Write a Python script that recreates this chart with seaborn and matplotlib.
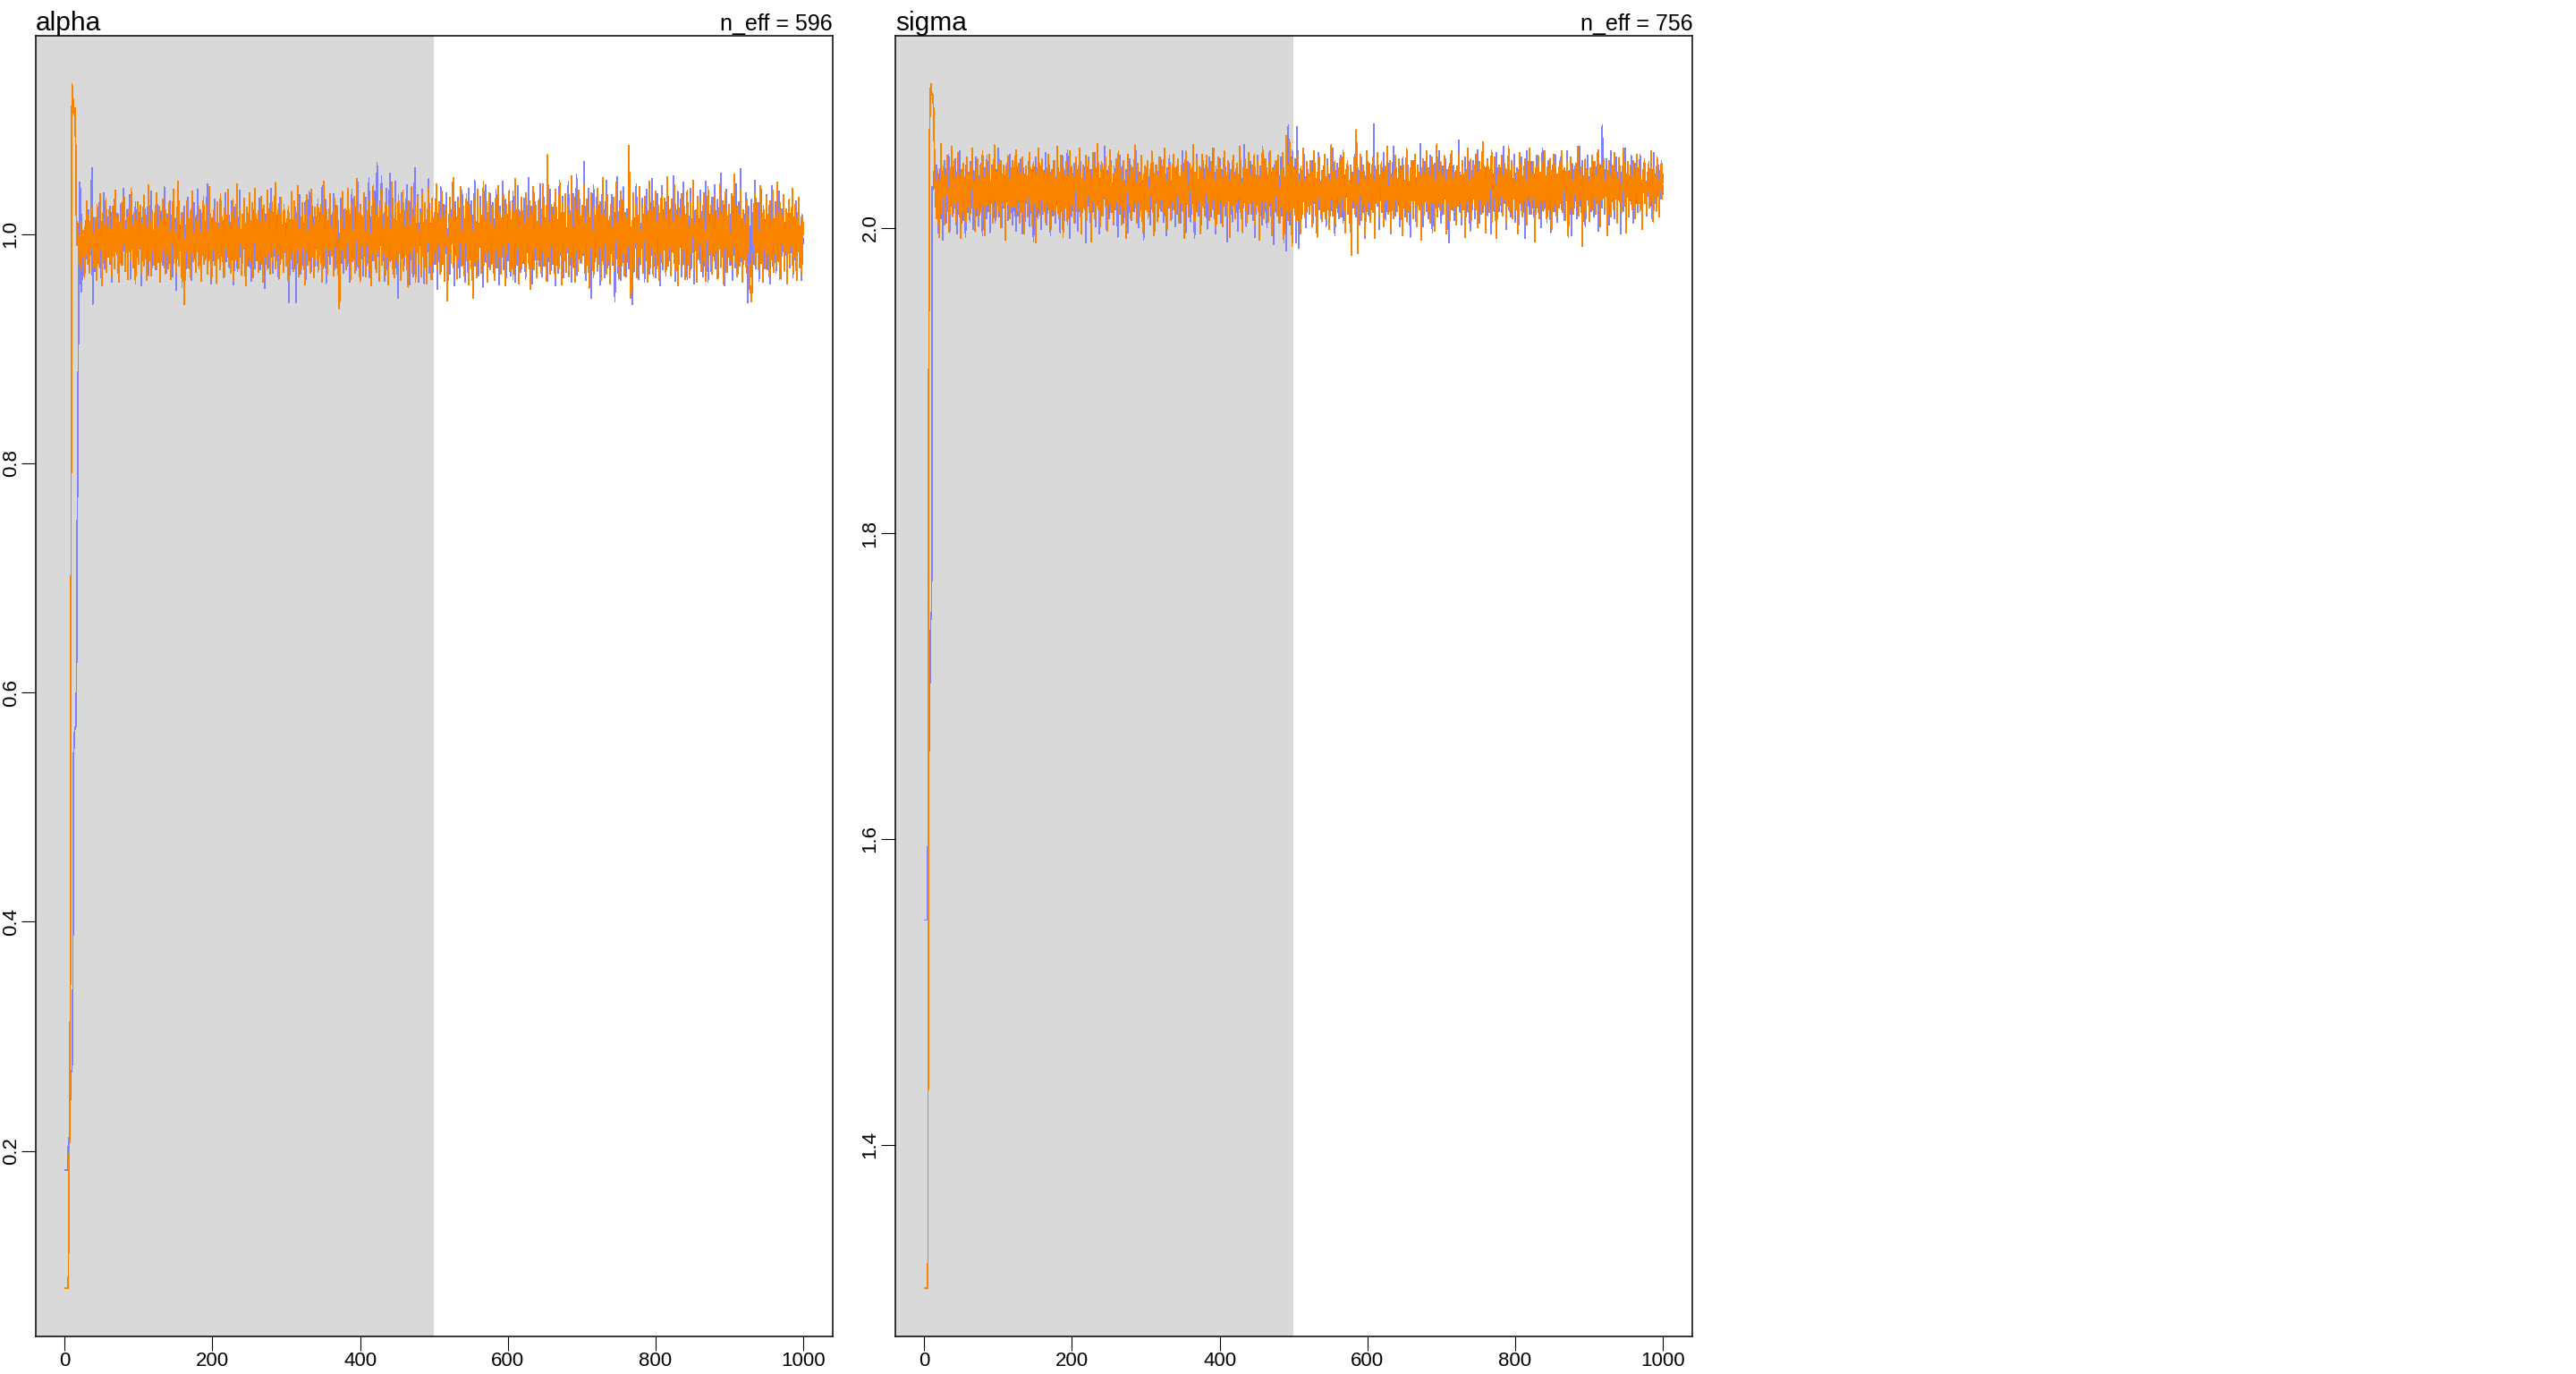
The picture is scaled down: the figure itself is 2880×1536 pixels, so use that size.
"""Trace plot of two chains for alpha and sigma, warmup shaded grey."""

import matplotlib

matplotlib.use("Agg")

import matplotlib.pyplot as plt
import numpy as np
import pandas as pd
import seaborn as sns

WARMUP = 500
CHAIN_COLORS = ["#8080FF", "#F98400"]
WARMUP_COLOR = "#D9D9D9"

PARAMS = ["alpha", "sigma"]
N_EFF = [596, 756]
X_TICKS = [0, 200, 400, 600, 800, 1000]
ALPHA_TICKS = [0.2, 0.4, 0.6, 0.8, 1.0]
SIGMA_TICKS = [1.4, 1.6, 1.8, 2.0]

# values per iteration (1..1000), 20 per row
alpha_chain1 = [
    0.183, 0.183, 0.183, 0.183, 0.204, 0.204, 0.230, 0.250, 0.270, 0.270, 0.305, 0.540, 0.560, 0.570, 0.570, 0.600, 0.730, 0.830, 0.950, 1.045,
    0.957, 1.040, 0.950, 0.972, 0.996, 0.988, 1.003, 0.985, 1.012, 0.979, 0.990, 1.021, 0.971, 1.008, 0.983, 1.033, 1.058, 0.939, 1.015, 0.992,
    0.968, 1.004, 0.981, 1.019, 0.996, 0.975, 1.027, 0.989, 0.962, 1.011, 0.998, 0.984, 1.036, 0.970, 1.006, 0.993, 0.979, 1.015, 0.987, 1.002,
    0.974, 1.024, 0.999, 0.958, 1.013, 0.986, 1.030, 0.977, 1.005, 0.991, 1.018, 0.966, 0.995, 1.009, 0.982, 1.026, 0.973, 1.001, 0.988, 1.040,
    0.995, 0.969, 1.012, 0.984, 1.021, 0.978, 0.999, 1.034, 0.961, 1.007, 0.990, 1.016, 0.976, 1.003, 0.985, 1.028, 0.967, 1.010, 0.993, 0.980,
    1.019, 0.987, 1.006, 0.955, 1.014, 0.996, 0.972, 1.031, 0.989, 1.002, 0.976, 1.023, 0.998, 0.964, 1.011, 0.983, 1.037, 0.971, 1.004, 0.992,
    0.981, 1.015, 0.969, 1.008, 0.994, 1.026, 0.977, 1.001, 0.958, 1.020, 0.987, 1.012, 0.973, 0.999, 1.041, 0.984, 1.006, 0.966, 1.017, 0.990,
    1.003, 0.975, 1.029, 0.986, 1.010, 0.963, 0.997, 1.022, 0.980, 1.013, 0.951, 1.005, 0.991, 1.035, 0.974, 1.000, 0.988, 1.018, 0.968, 1.009,
    0.985, 1.024, 0.995, 0.970, 1.011, 0.982, 1.032, 0.976, 1.002, 0.990, 1.016, 0.960, 1.007, 0.994, 1.027, 0.979, 1.013, 0.987, 0.998, 1.039,
    0.972, 1.006, 0.989, 1.021, 0.967, 1.010, 0.996, 0.981, 1.025, 0.978, 1.003, 0.992, 1.044, 0.969, 1.008, 0.984, 1.017, 0.957, 1.001, 0.993,
    1.014, 0.977, 1.030, 0.988, 0.999, 0.965, 1.019, 0.985, 1.009, 0.973, 1.027, 0.995, 0.981, 1.012, 0.962, 1.004, 0.990, 1.036, 0.976, 1.007,
    0.983, 1.018, 0.971, 1.002, 0.994, 1.029, 0.978, 1.011, 0.956, 0.997, 1.023, 0.986, 1.005, 0.968, 1.015, 0.991, 1.038, 0.980, 1.000, 0.974,
    1.010, 0.989, 1.026, 0.964, 1.003, 0.982, 1.020, 0.993, 0.972, 1.033, 0.987, 1.008, 0.959, 1.016, 0.996, 0.979, 1.024, 0.970, 1.006, 0.992,
    0.977, 1.013, 0.985, 1.031, 0.969, 1.001, 0.990, 1.022, 0.975, 1.009, 0.953, 1.017, 0.994, 0.983, 1.028, 0.971, 1.004, 0.988, 1.040, 0.980,
    1.007, 0.966, 1.019, 0.992, 0.978, 1.025, 0.986, 1.011, 0.963, 0.999, 1.032, 0.974, 1.014, 0.990, 1.003, 0.968, 1.021, 0.984, 1.009, 0.976,
    0.996, 1.018, 0.979, 0.940, 1.006, 0.987, 1.027, 0.970, 1.012, 0.993, 0.981, 1.023, 0.940, 1.002, 0.975, 1.016, 0.989, 1.034, 0.965, 1.008,
    0.986, 1.020, 0.973, 1.004, 0.995, 1.029, 0.961, 1.013, 0.982, 1.000, 1.037, 0.977, 1.010, 0.968, 1.024, 0.991, 0.980, 1.015, 0.972, 1.005,
    0.990, 1.026, 0.967, 1.011, 0.984, 1.019, 0.976, 1.003, 1.042, 0.970, 1.008, 0.988, 1.030, 0.957, 1.014, 0.996, 0.981, 1.022, 0.974, 1.009,
    0.983, 1.016, 0.993, 1.035, 0.969, 1.006, 0.978, 1.025, 0.989, 1.012, 0.962, 1.001, 0.987, 1.031, 0.975, 1.018, 0.994, 0.966, 1.021, 0.985,
    1.010, 0.972, 1.028, 0.991, 1.004, 0.958, 1.017, 0.980, 1.039, 0.976, 1.007, 0.993, 1.023, 0.968, 1.013, 0.986, 1.045, 0.971, 1.002, 0.990,
    1.026, 0.979, 1.011, 0.964, 1.019, 0.997, 0.983, 1.032, 0.973, 1.006, 0.988, 1.049, 0.962, 1.015, 0.992, 1.024, 0.977, 1.003, 0.985, 1.037,
    0.970, 1.012, 1.062, 0.981, 1.008, 0.966, 1.029, 0.990, 1.051, 0.974, 1.017, 0.995, 0.959, 1.021, 0.984, 1.040, 0.969, 1.010, 0.987, 1.053,
    0.976, 1.014, 0.993, 1.031, 0.965, 1.005, 0.982, 1.046, 0.971, 1.009, 0.944, 1.025, 0.988, 1.002, 0.960, 1.036, 0.979, 1.013, 0.996, 0.973,
    1.020, 0.985, 1.043, 0.968, 1.007, 0.991, 0.956, 1.028, 0.978, 1.011, 0.999, 0.963, 1.016, 1.058, 0.975, 1.004, 0.987, 1.034, 0.958, 1.009,
    0.990, 1.022, 0.969, 1.039, 0.982, 1.006, 0.957, 1.027, 0.993, 0.971, 1.015, 0.985, 1.048, 0.966, 1.002, 0.978, 1.024, 0.961, 1.012, 0.996,
    0.974, 1.030, 0.987, 1.009, 0.952, 1.018, 0.993, 0.979, 1.041, 0.968, 1.005, 0.990, 1.026, 0.960, 1.014, 0.983, 1.036, 0.971, 1.001, 0.988,
    1.021, 0.965, 1.010, 0.994, 1.045, 0.977, 1.003, 0.955, 1.028, 0.986, 1.013, 0.970, 1.032, 0.991, 0.962, 1.017, 0.981, 1.038, 0.973, 1.006,
    0.992, 0.958, 1.024, 0.984, 1.011, 0.967, 1.040, 0.978, 1.004, 0.995, 1.029, 0.960, 1.016, 0.987, 1.047, 0.972, 1.000, 0.983, 1.022, 0.964,
    1.009, 0.989, 1.033, 0.970, 1.015, 0.954, 1.026, 0.993, 0.976, 1.043, 0.985, 1.007, 0.961, 1.019, 0.996, 1.035, 0.974, 1.002, 0.988, 1.027,
    0.966, 1.013, 0.980, 1.039, 0.971, 1.006, 0.992, 0.956, 1.024, 0.983, 1.011, 0.998, 1.046, 0.969, 1.004, 0.987, 1.030, 0.962, 1.017, 0.977,
    1.001, 0.990, 1.028, 0.964, 1.012, 0.979, 1.037, 0.985, 1.005, 0.958, 1.021, 0.994, 0.973, 1.042, 0.982, 1.009, 0.967, 1.025, 0.988, 1.014,
    0.975, 1.031, 0.996, 0.961, 1.018, 0.984, 1.003, 1.049, 0.970, 1.010, 0.989, 1.024, 0.957, 1.007, 0.993, 1.036, 0.978, 1.015, 0.965, 1.002,
    0.986, 1.020, 0.972, 1.044, 0.991, 0.963, 1.013, 0.980, 1.032, 0.974, 1.006, 0.996, 1.027, 0.959, 1.017, 0.983, 1.039, 0.968, 1.008, 0.992,
    1.023, 0.977, 1.004, 0.955, 1.029, 0.988, 1.012, 0.966, 1.041, 0.981, 0.997, 1.019, 0.973, 1.033, 0.962, 1.010, 0.990, 1.026, 0.976, 1.005,
    0.984, 1.046, 0.969, 1.015, 0.993, 0.958, 1.022, 0.987, 1.035, 0.971, 1.008, 0.979, 1.052, 0.964, 1.011, 0.995, 1.030, 0.975, 1.003, 0.989,
    1.018, 0.982, 1.063, 0.975, 1.024, 0.960, 1.009, 0.991, 1.040, 0.970, 1.014, 0.986, 0.944, 1.027, 0.997, 1.043, 0.965, 1.006, 0.980, 1.032,
    0.968, 1.010, 0.989, 1.025, 0.956, 1.016, 0.994, 1.037, 0.977, 1.003, 0.962, 1.028, 0.985, 1.047, 0.971, 1.012, 0.998, 0.959, 1.021, 0.983,
    1.034, 0.973, 1.007, 0.990, 0.941, 1.019, 0.981, 1.050, 0.966, 1.013, 0.995, 1.029, 0.960, 1.004, 0.987, 1.041, 0.975, 1.016, 0.992, 0.963,
    1.022, 0.985, 1.011, 0.970, 1.038, 0.979, 1.005, 0.993, 0.939, 1.026, 0.968, 1.014, 0.988, 1.044, 0.974, 1.002, 0.961, 1.020, 0.984, 1.009,
    0.996, 1.031, 0.972, 1.017, 0.958, 1.006, 0.989, 1.039, 0.976, 1.012, 0.994, 0.965, 1.027, 0.982, 1.048, 0.970, 1.004, 0.991, 1.023, 0.962,
    1.010, 0.980, 1.035, 0.973, 1.001, 0.955, 1.019, 0.987, 1.042, 0.969, 1.013, 0.995, 1.028, 0.964, 1.007, 0.984, 1.033, 0.977, 1.016, 0.990,
    0.967, 1.024, 0.992, 1.051, 0.975, 1.008, 0.959, 1.021, 0.986, 1.037, 0.971, 1.003, 0.993, 1.030, 0.963, 1.015, 0.981, 1.045, 0.974, 1.006,
    0.988, 1.018, 0.961, 1.027, 0.996, 0.978, 1.040, 0.969, 1.011, 0.984, 1.034, 0.957, 1.020, 0.990, 1.004, 0.966, 1.029, 0.982, 1.013, 0.975,
    1.038, 0.986, 1.009, 0.963, 1.023, 0.994, 0.972, 1.046, 0.980, 1.014, 0.958, 1.026, 0.991, 1.005, 0.968, 1.032, 0.977, 1.017, 0.995, 1.043,
    0.970, 1.008, 0.984, 1.030, 0.962, 1.019, 0.990, 1.053, 0.976, 1.002, 0.987, 1.025, 0.955, 1.012, 0.981, 1.039, 0.967, 1.006, 0.996, 1.022,
    0.973, 1.015, 0.989, 0.960, 1.033, 0.982, 1.010, 0.971, 1.044, 0.993, 1.004, 0.965, 1.028, 0.985, 1.057, 0.976, 1.013, 0.958, 1.020, 0.992,
    0.979, 1.036, 0.968, 1.011, 0.940, 1.024, 0.987, 1.007, 0.963, 1.030, 0.995, 0.974, 1.018, 0.983, 1.047, 0.970, 1.005, 0.990, 1.027, 0.959,
    1.012, 0.986, 1.039, 0.975, 1.003, 0.964, 1.021, 0.994, 0.980, 1.034, 0.969, 1.009, 0.991, 1.025, 0.957, 1.016, 0.983, 1.042, 0.972, 1.001,
    0.988, 1.028, 0.966, 1.014, 0.995, 0.977, 1.037, 0.985, 1.006, 0.961, 1.022, 0.990, 1.031, 0.973, 1.010, 0.982, 1.019, 0.967, 1.004, 0.993,
    1.026, 0.971, 1.008, 0.984, 1.035, 0.962, 1.015, 0.992, 0.978, 1.029, 0.968, 1.011, 0.987, 1.020, 0.975, 1.003, 0.960, 1.017, 0.989, 0.996,
]

alpha_chain2 = [
    0.080, 0.080, 0.080, 0.080, 0.080, 0.183, 0.230, 0.390, 0.820, 1.131, 1.124, 1.107, 1.104, 1.110, 1.078, 1.016, 0.990, 1.002, 0.975, 0.998,
    0.985, 1.011, 0.969, 0.993, 1.003, 0.978, 0.962, 1.006, 0.982, 1.029, 0.974, 0.997, 1.019, 0.966, 1.008, 0.988, 1.023, 0.980, 1.001, 0.971,
    1.014, 0.990, 0.960, 1.026, 0.983, 1.004, 0.972, 1.035, 0.987, 0.995, 0.955, 1.018, 0.979, 1.009, 0.992, 1.031, 0.967, 1.002, 0.985, 1.021,
    0.976, 1.007, 0.994, 0.963, 1.024, 0.981, 1.013, 0.970, 1.038, 0.989, 1.000, 0.975, 1.017, 0.958, 1.010, 0.986, 1.027, 0.973, 1.005, 0.991,
    1.032, 0.968, 1.004, 0.984, 1.015, 0.961, 1.022, 0.996, 0.978, 1.040, 0.987, 1.008, 0.971, 1.019, 0.993, 0.957, 1.012, 0.980, 1.028, 0.974,
    1.001, 0.989, 1.025, 0.966, 1.009, 0.983, 1.034, 0.972, 0.999, 1.016, 0.960, 1.006, 0.990, 1.043, 0.977, 1.011, 0.964, 1.020, 0.985, 1.003,
    0.973, 1.018, 0.992, 1.036, 0.969, 1.005, 0.980, 1.024, 0.958, 1.012, 0.995, 0.976, 1.030, 0.987, 1.008, 0.965, 1.021, 0.982, 1.014, 0.970,
    1.027, 0.984, 1.002, 0.961, 1.016, 0.993, 1.039, 0.975, 1.010, 0.988, 0.966, 1.023, 0.979, 1.046, 0.972, 1.004, 0.990, 1.012, 0.954, 1.019,
    0.981, 0.939, 0.968, 1.007, 0.986, 1.029, 0.971, 1.013, 0.994, 0.962, 1.022, 0.983, 1.037, 0.976, 1.001, 0.990, 1.015, 0.967, 1.009, 0.985,
    1.024, 0.970, 1.006, 0.992, 0.959, 1.018, 0.982, 1.033, 0.974, 1.011, 0.988, 1.026, 0.965, 1.003, 0.994, 1.041, 0.978, 1.014, 0.961, 1.008,
    0.987, 1.021, 0.973, 1.010, 0.996, 0.957, 1.028, 0.984, 1.005, 0.969, 1.035, 0.991, 1.015, 0.976, 1.000, 0.963, 1.024, 0.989, 1.012, 0.980,
    1.039, 0.972, 1.008, 0.993, 0.966, 1.019, 0.985, 1.030, 0.960, 1.013, 0.997, 0.978, 1.044, 0.983, 1.006, 0.970, 1.022, 0.991, 1.004, 0.964,
    1.017, 0.988, 1.031, 0.975, 1.009, 0.955, 1.023, 0.994, 0.980, 1.036, 0.971, 1.012, 0.986, 1.027, 0.962, 1.005, 0.993, 1.040, 0.977, 1.002,
    0.984, 1.020, 0.967, 1.011, 0.990, 1.033, 0.974, 1.007, 0.958, 1.025, 0.996, 0.981, 1.014, 0.969, 1.038, 0.987, 1.003, 0.965, 1.018, 0.992,
    1.028, 0.976, 1.010, 0.989, 1.045, 0.970, 1.001, 0.983, 1.021, 0.961, 1.016, 0.994, 1.032, 0.979, 1.008, 0.967, 1.026, 0.986, 0.999, 0.972,
    1.013, 0.960, 1.024, 0.991, 1.006, 0.978, 1.037, 0.984, 1.011, 0.968, 1.029, 0.995, 0.975, 1.019, 0.987, 1.042, 0.963, 1.004, 0.982, 1.015,
    0.970, 1.027, 0.993, 1.009, 0.956, 1.020, 0.985, 1.034, 0.973, 1.002, 0.990, 1.016, 0.966, 1.039, 0.980, 1.007, 0.994, 0.962, 1.023, 0.988,
    1.011, 0.977, 1.030, 0.969, 1.005, 0.991, 1.026, 0.958, 1.017, 0.984, 1.046, 0.972, 1.003, 0.989, 1.021, 0.965, 1.012, 0.996, 1.035, 0.979,
    1.006, 0.982, 1.019, 0.964, 1.031, 0.990, 1.008, 0.971, 1.024, 0.986, 0.957, 0.935, 0.968, 1.013, 0.994, 1.037, 0.976, 1.004, 0.983, 1.022,
    0.969, 1.010, 0.992, 1.040, 0.975, 1.015, 0.961, 1.027, 0.987, 1.003, 0.978, 1.033, 0.966, 1.009, 0.995, 1.048, 0.972, 1.018, 0.984, 0.958,
    1.025, 0.990, 1.012, 0.974, 1.036, 0.981, 1.002, 0.963, 1.020, 0.996, 1.030, 0.970, 1.007, 0.988, 0.955, 1.016, 0.983, 1.043, 0.977, 1.010,
    0.993, 0.967, 1.028, 0.985, 1.014, 0.959, 1.022, 0.997, 1.039, 0.973, 1.006, 0.989, 1.019, 0.964, 1.032, 0.980, 1.011, 0.956, 1.024, 0.991,
    1.004, 0.978, 1.045, 0.970, 1.013, 0.987, 0.962, 1.027, 0.994, 1.008, 0.975, 1.034, 0.983, 1.017, 0.960, 1.022, 0.992, 1.038, 0.968, 1.001,
    0.986, 1.020, 0.971, 1.012, 0.954, 1.029, 0.995, 1.006, 0.979, 1.041, 0.966, 1.015, 0.990, 1.025, 0.958, 1.009, 0.984, 1.033, 0.974, 1.003,
    0.997, 1.018, 0.963, 1.036, 0.981, 1.010, 0.969, 1.027, 0.988, 0.957, 1.022, 0.993, 1.040, 0.972, 1.005, 0.961, 1.031, 0.984, 1.014, 0.976,
    1.019, 0.986, 1.044, 0.970, 1.008, 0.992, 1.028, 0.965, 1.013, 0.980, 1.037, 0.974, 1.003, 0.959, 1.025, 0.990, 1.016, 0.942, 0.968, 1.011,
    0.983, 1.032, 0.975, 1.006, 0.995, 1.049, 0.967, 1.021, 0.988, 1.010, 0.961, 1.029, 0.979, 1.015, 0.993, 1.041, 0.972, 1.002, 0.985, 1.024,
    0.964, 1.013, 0.991, 1.035, 0.977, 1.008, 0.956, 1.026, 0.987, 1.017, 0.970, 1.002, 0.944, 0.983, 1.030, 0.994, 1.011, 0.962, 1.039, 0.978,
    1.007, 0.989, 1.023, 0.966, 1.016, 0.981, 1.046, 0.973, 1.004, 0.992, 1.028, 0.958, 1.019, 0.985, 1.036, 0.969, 1.010, 0.996, 1.025, 0.975,
    1.002, 0.960, 1.031, 0.987, 1.014, 0.971, 1.042, 0.980, 0.998, 1.021, 0.965, 1.009, 0.990, 1.034, 0.976, 1.017, 0.955, 1.026, 0.983, 1.005,
    0.993, 1.038, 0.968, 1.012, 0.984, 1.027, 0.961, 1.019, 0.995, 1.048, 0.973, 1.006, 0.988, 1.023, 0.957, 1.015, 0.979, 1.032, 0.970, 1.001,
    1.020, 0.982, 1.009, 0.964, 1.036, 0.991, 1.013, 0.975, 1.029, 0.986, 0.952, 1.017, 0.996, 1.041, 0.969, 1.004, 0.989, 1.025, 0.962, 1.011,
    0.978, 1.030, 0.994, 1.007, 0.966, 1.022, 0.985, 1.044, 0.972, 1.014, 0.998, 0.959, 1.034, 1.069, 0.981, 1.010, 0.965, 1.026, 0.990, 1.003,
    0.974, 1.016, 0.987, 1.039, 0.961, 1.023, 0.996, 1.008, 0.970, 1.047, 0.983, 1.012, 0.956, 1.028, 0.992, 1.019, 0.977, 1.035, 0.967, 1.004,
    0.989, 1.027, 0.963, 1.014, 0.980, 1.051, 0.971, 1.006, 0.995, 1.032, 0.958, 1.021, 0.986, 1.010, 0.968, 1.038, 0.979, 1.016, 0.993, 0.975,
    1.025, 0.984, 1.043, 0.966, 1.009, 0.992, 1.030, 0.973, 1.018, 0.953, 1.013, 0.988, 1.036, 0.977, 1.002, 0.962, 1.024, 0.996, 1.011, 0.981,
    1.040, 0.970, 1.007, 0.989, 1.028, 0.960, 1.017, 0.985, 1.049, 0.974, 1.003, 0.993, 1.021, 0.965, 1.034, 0.982, 1.012, 0.957, 1.026, 0.990,
    1.005, 0.976, 1.032, 0.968, 1.015, 0.994, 1.045, 0.979, 1.008, 0.961, 1.023, 0.987, 1.037, 0.972, 1.010, 0.983, 1.029, 0.964, 1.019, 0.997,
    0.975, 1.021, 0.990, 1.077, 1.030, 0.944, 0.952, 1.012, 0.984, 1.036, 0.969, 1.006, 0.993, 1.027, 0.962, 1.016, 0.980, 1.041, 0.973, 1.002,
    0.988, 1.024, 0.966, 1.013, 0.995, 1.033, 0.977, 1.008, 0.958, 1.020, 0.986, 1.046, 0.971, 1.004, 0.990, 1.029, 0.963, 1.015, 0.982, 1.037,
    0.970, 1.010, 0.997, 1.025, 0.960, 1.018, 0.984, 1.039, 0.975, 1.006, 0.991, 1.031, 0.967, 1.014, 0.980, 1.050, 0.972, 1.001, 0.989, 1.022,
    0.964, 1.030, 0.985, 1.011, 0.978, 1.043, 0.969, 1.016, 0.993, 0.955, 1.026, 0.981, 1.008, 0.996, 1.035, 0.973, 1.012, 0.987, 1.024, 0.961,
    1.017, 0.990, 1.038, 0.974, 1.005, 0.962, 1.028, 0.983, 1.013, 0.997, 1.047, 0.970, 1.009, 0.986, 1.021, 0.958, 1.033, 0.979, 1.002, 0.992,
    1.027, 0.968, 1.014, 0.988, 1.036, 0.976, 1.003, 0.959, 1.020, 0.994, 1.041, 0.972, 1.010, 0.983, 1.025, 0.965, 1.016, 0.991, 1.032, 0.977,
    1.006, 0.985, 1.023, 0.961, 1.012, 0.996, 1.044, 0.971, 1.018, 0.980, 1.029, 0.957, 1.009, 0.989, 1.037, 0.967, 1.015, 0.994, 1.026, 0.974,
    1.001, 0.982, 1.035, 0.969, 1.011, 0.990, 1.052, 0.976, 1.007, 0.963, 1.024, 0.987, 1.016, 0.972, 1.039, 0.980, 1.004, 0.958, 1.021, 0.995,
    0.978, 1.013, 0.966, 1.030, 0.985, 1.008, 0.960, 0.949, 0.955, 0.941, 0.962, 1.019, 0.992, 1.036, 0.973, 1.010, 0.984, 1.027, 0.969, 1.003,
    0.991, 1.042, 0.975, 1.014, 0.958, 1.025, 0.987, 1.009, 0.970, 1.033, 0.982, 1.017, 0.996, 0.963, 1.029, 0.978, 1.012, 0.989, 1.038, 0.967,
    1.006, 0.984, 1.021, 0.972, 1.045, 0.990, 1.010, 0.961, 1.027, 0.979, 1.015, 0.993, 1.034, 0.968, 1.003, 0.986, 1.022, 0.957, 1.018, 0.983,
    1.030, 0.974, 1.009, 0.994, 1.040, 0.966, 1.013, 0.980, 1.026, 0.988, 0.960, 1.019, 0.985, 1.032, 0.971, 1.007, 0.992, 0.965, 1.016, 1.000,
]

sigma_chain1 = [
    1.547, 1.547, 1.547, 1.547, 1.597, 1.641, 1.680, 1.715, 1.748, 1.748, 2.027, 2.025, 2.027, 2.047, 2.030, 2.012, 2.041, 2.019, 1.997, 2.035,
    2.018, 2.039, 2.006, 2.029, 1.992, 2.033, 2.015, 2.044, 2.021, 2.003, 2.036, 2.011, 2.048, 2.025, 1.998, 2.031, 2.014, 2.040, 2.007, 2.026,
    2.013, 2.045, 2.020, 1.996, 2.034, 2.009, 2.028, 2.050, 2.016, 2.002, 2.038, 2.022, 2.005, 2.032, 2.017, 1.994, 2.041, 2.024, 2.010, 2.036,
    2.027, 2.004, 2.043, 2.019, 2.031, 1.999, 2.037, 2.012, 2.026, 2.046, 2.008, 2.023, 2.035, 2.001, 2.029, 2.015, 2.042, 2.020, 1.995, 2.033,
    2.016, 2.039, 2.025, 2.006, 2.047, 2.021, 2.011, 2.034, 1.997, 2.028, 2.018, 2.041, 2.009, 2.030, 2.024, 2.003, 2.038, 2.014, 2.026, 2.052,
    2.007, 2.032, 2.019, 2.044, 2.000, 2.027, 2.013, 2.036, 2.022, 1.993, 2.040, 2.017, 2.031, 2.005, 2.025, 2.048, 2.010, 2.034, 2.020, 2.002,
    2.037, 2.015, 2.029, 1.998, 2.042, 2.023, 2.008, 2.033, 2.018, 2.045, 2.012, 2.027, 1.996, 2.039, 2.021, 2.004, 2.035, 2.016, 2.030, 2.010,
    2.043, 2.020, 2.001, 2.032, 2.014, 2.038, 2.024, 1.991, 2.029, 2.011, 2.046, 2.019, 2.034, 2.006, 2.026, 2.015, 2.040, 1.999, 2.031, 2.022,
    2.009, 2.035, 2.017, 2.049, 2.025, 2.002, 2.030, 2.013, 2.041, 2.020, 1.995, 2.036, 2.023, 2.008, 2.044, 2.016, 2.028, 2.003, 2.033, 2.019,
    2.039, 2.012, 2.026, 1.997, 2.034, 2.021, 2.047, 2.010, 2.030, 2.005, 2.037, 2.018, 2.024, 2.051, 2.014, 2.029, 1.993, 2.032, 2.022, 2.007,
    2.030, 2.016, 2.042, 2.003, 2.027, 2.019, 2.036, 1.998, 2.033, 2.011, 2.045, 2.024, 2.006, 2.031, 2.017, 2.040, 2.012, 2.028, 1.990, 2.035,
    2.021, 2.046, 2.013, 2.029, 2.004, 2.038, 2.023, 2.010, 2.034, 2.018, 2.049, 2.001, 2.027, 2.015, 2.039, 2.025, 1.996, 2.032, 2.020, 2.043,
    2.008, 2.031, 2.019, 2.053, 2.014, 2.026, 1.999, 2.037, 2.022, 2.006, 2.033, 2.017, 2.044, 2.011, 2.029, 2.002, 2.040, 2.024, 2.012, 2.035,
    2.019, 1.994, 2.036, 2.023, 2.047, 2.009, 2.030, 2.015, 2.041, 2.003, 2.027, 2.020, 2.038, 2.012, 2.032, 1.997, 2.025, 2.045, 2.016, 2.028,
    2.005, 2.039, 2.022, 2.011, 2.034, 2.018, 2.050, 2.008, 2.029, 2.000, 2.036, 2.024, 2.013, 2.042, 2.017, 2.031, 1.992, 2.027, 2.038, 2.014,
    2.026, 2.044, 2.010, 2.033, 2.019, 2.002, 2.037, 2.023, 2.048, 2.012, 2.030, 1.998, 2.035, 2.016, 2.041, 2.021, 2.007, 2.032, 2.025, 2.046,
    2.011, 2.028, 2.040, 2.004, 2.034, 2.018, 2.026, 1.995, 2.039, 2.022, 2.013, 2.047, 2.020, 2.031, 2.006, 2.036, 2.015, 2.042, 2.027, 2.001,
    2.033, 2.017, 2.045, 2.009, 2.029, 2.023, 2.003, 2.038, 2.014, 2.050, 2.025, 2.010, 2.035, 1.997, 2.030, 2.019, 2.043, 2.012, 2.026, 2.036,
    2.004, 2.027, 2.016, 2.041, 2.021, 1.993, 2.034, 2.011, 2.048, 2.024, 2.008, 2.032, 2.018, 2.039, 2.002, 2.029, 2.022, 2.044, 2.013, 2.030,
    2.020, 2.037, 1.999, 2.031, 2.015, 2.046, 2.024, 2.007, 2.035, 2.019, 2.052, 2.012, 2.028, 1.996, 2.040, 2.023, 2.009, 2.033, 2.017, 2.045,
    2.026, 2.003, 2.038, 2.014, 2.030, 2.022, 2.049, 2.008, 2.034, 1.991, 2.027, 2.018, 2.042, 2.011, 2.036, 2.020, 2.004, 2.031, 2.047, 2.015,
    2.029, 2.010, 2.040, 2.023, 1.998, 2.035, 2.016, 2.044, 2.021, 2.006, 2.032, 2.013, 2.054, 2.019, 2.027, 2.001, 2.038, 2.024, 2.009, 2.033,
    2.017, 2.043, 2.012, 2.028, 2.005, 2.037, 2.022, 1.994, 2.031, 2.015, 2.047, 2.020, 2.034, 2.008, 2.040, 2.025, 2.002, 2.030, 2.018, 2.045,
    2.011, 2.026, 2.039, 2.000, 2.033, 2.019, 2.049, 2.014, 2.029, 2.007, 2.036, 2.023, 1.989, 2.041, 2.016, 2.032, 2.010, 2.044, 2.025, 2.003,
    2.034, 2.019, 2.046, 2.008, 2.027, 2.039, 2.012, 2.030, 2.021, 1.985, 2.043, 2.015, 2.067, 2.020, 2.002, 2.036, 2.024, 2.051, 2.010, 2.031,
    2.018, 2.045, 1.990, 2.028, 2.066, 2.013, 1.987, 2.035, 2.022, 2.040, 2.006, 2.029, 2.017, 2.048, 2.011, 2.033, 2.000, 2.025, 2.038, 2.014,
    2.027, 2.009, 2.036, 2.021, 2.044, 2.003, 2.030, 2.016, 2.041, 2.024, 1.997, 2.034, 2.019, 2.049, 2.012, 2.028, 2.006, 2.037, 2.022, 2.015,
    2.040, 2.018, 2.031, 2.001, 2.026, 2.045, 2.013, 2.035, 2.020, 2.008, 2.038, 2.023, 2.052, 2.010, 2.029, 1.995, 2.033, 2.017, 2.042, 2.025,
    2.006, 2.032, 2.019, 2.047, 2.014, 2.027, 2.003, 2.039, 2.022, 2.012, 2.035, 2.020, 2.044, 2.009, 2.030, 2.016, 2.041, 1.998, 2.028, 2.036,
    2.013, 2.024, 2.048, 2.007, 2.033, 2.018, 2.039, 2.025, 2.002, 2.031, 2.015, 2.046, 2.021, 2.010, 2.037, 2.026, 1.993, 2.034, 2.019, 2.043,
    2.022, 2.008, 2.036, 2.017, 2.030, 2.012, 2.045, 2.027, 2.068, 2.004, 2.029, 2.019, 2.040, 2.014, 2.033, 1.999, 2.026, 2.038, 2.021, 2.010,
    2.032, 2.049, 2.016, 2.028, 2.005, 2.037, 2.023, 2.042, 2.011, 2.030, 2.019, 1.996, 2.035, 2.024, 2.053, 2.013, 2.027, 2.008, 2.039, 2.020,
    2.015, 2.034, 2.022, 2.001, 2.040, 2.026, 2.012, 2.046, 2.018, 2.031, 2.007, 2.036, 2.024, 2.050, 2.010, 2.029, 2.017, 1.994, 2.033, 2.021,
    2.044, 2.012, 2.030, 2.019, 2.037, 2.004, 2.026, 2.041, 2.015, 2.032, 2.023, 2.055, 2.009, 2.028, 2.001, 2.035, 2.018, 2.043, 2.024, 2.011,
    2.029, 2.038, 2.006, 2.025, 2.047, 2.016, 2.033, 1.997, 2.031, 2.020, 2.042, 2.013, 2.027, 2.036, 2.008, 2.022, 2.050, 2.017, 2.034, 2.003,
    2.024, 2.040, 2.014, 2.030, 2.019, 2.045, 2.009, 2.033, 2.022, 1.990, 2.036, 2.026, 2.048, 2.012, 2.031, 2.018, 2.041, 2.005, 2.028, 2.037,
    2.015, 2.032, 2.023, 2.057, 2.011, 2.027, 2.002, 2.039, 2.020, 2.034, 2.013, 2.046, 2.025, 2.007, 2.030, 2.018, 2.043, 2.021, 1.998, 2.035,
    2.027, 2.012, 2.044, 2.019, 2.031, 2.006, 2.038, 2.024, 2.051, 2.016, 2.029, 2.003, 2.034, 2.021, 2.047, 2.010, 2.028, 2.040, 2.015, 2.033,
    2.020, 2.045, 2.008, 2.030, 2.017, 2.038, 1.996, 2.027, 2.042, 2.013, 2.035, 2.022, 2.005, 2.031, 2.049, 2.018, 2.026, 2.011, 2.039, 2.024,
    2.034, 2.010, 2.028, 2.053, 2.016, 2.033, 2.021, 1.999, 2.037, 2.025, 2.044, 2.012, 2.030, 2.007, 2.041, 2.019, 2.032, 2.023, 2.048, 2.004,
    2.026, 2.039, 2.015, 2.031, 2.002, 2.036, 2.022, 2.046, 2.011, 2.029, 2.018, 2.040, 1.993, 2.033, 2.024, 2.050, 2.014, 2.027, 2.009, 2.037,
    2.020, 2.043, 2.013, 2.028, 2.035, 2.006, 2.031, 2.019, 2.047, 2.024, 2.010, 2.038, 2.016, 2.029, 2.000, 2.034, 2.052, 2.021, 2.012, 2.039,
    2.025, 2.008, 2.036, 2.018, 2.044, 2.022, 2.030, 1.997, 2.033, 2.015, 2.041, 2.027, 2.011, 2.048, 2.020, 2.035, 2.004, 2.029, 2.038, 2.017,
    2.031, 2.046, 2.012, 2.027, 2.021, 2.039, 2.005, 2.034, 2.018, 2.050, 2.024, 2.009, 2.037, 2.016, 2.030, 1.995, 2.042, 2.023, 2.032, 2.013,
    2.040, 2.019, 2.028, 2.006, 2.035, 2.022, 2.053, 2.014, 2.031, 2.010, 2.044, 2.026, 2.017, 2.038, 2.001, 2.029, 2.021, 2.047, 2.015, 2.033,
    2.024, 2.037, 2.011, 2.030, 2.019, 2.043, 2.007, 2.028, 2.036, 2.016, 2.049, 2.022, 1.998, 2.034, 2.025, 2.041, 2.013, 2.067, 2.020, 2.032,
    2.009, 2.038, 2.026, 2.045, 2.014, 2.031, 2.002, 2.035, 2.022, 2.050, 2.017, 2.029, 2.040, 2.006, 2.033, 2.021, 2.046, 2.012, 2.027, 2.039,
    2.018, 2.030, 1.996, 2.036, 2.024, 2.044, 2.011, 2.028, 2.052, 2.015, 2.033, 2.020, 2.041, 2.007, 2.031, 2.025, 2.047, 2.013, 2.036, 2.003,
    2.029, 2.042, 2.016, 2.034, 2.022, 2.010, 2.039, 2.026, 2.048, 2.012, 2.031, 1.999, 2.037, 2.023, 2.045, 2.017, 2.030, 2.008, 2.035, 2.021,
    2.043, 2.014, 2.032, 2.025, 2.006, 2.038, 2.020, 2.049, 2.016, 2.029, 2.011, 2.036, 2.024, 2.041, 2.009, 2.033, 2.019, 2.044, 2.027, 2.035,
]

sigma_chain2 = [
    1.306, 1.306, 1.306, 1.306, 1.306, 1.864, 2.047, 2.086, 2.094, 2.087, 2.088, 2.086, 2.071, 2.043, 2.019, 2.030, 2.006, 2.038, 2.013, 1.994,
    2.031, 2.017, 2.055, 2.009, 2.028, 2.040, 2.015, 2.002, 2.034, 2.022, 2.047, 2.011, 2.026, 1.997, 2.039, 2.020, 2.053, 2.008, 2.032, 2.016,
    2.044, 2.023, 2.004, 2.036, 2.018, 2.049, 2.012, 2.029, 1.993, 2.038, 2.025, 2.010, 2.042, 2.019, 2.033, 2.001, 2.027, 2.046, 2.014, 2.035,
    2.021, 2.008, 2.040, 2.026, 2.052, 2.013, 2.030, 2.017, 1.998, 2.037, 2.024, 2.045, 2.006, 2.032, 2.019, 2.041, 2.011, 2.028, 2.050, 2.015,
    2.033, 1.995, 2.026, 2.043, 2.012, 2.035, 2.020, 2.048, 2.009, 2.030, 2.016, 2.039, 2.003, 2.027, 2.054, 2.018, 2.031, 2.007, 2.036, 2.022,
    2.011, 2.045, 2.028, 2.000, 2.034, 2.019, 2.041, 2.013, 2.029, 1.992, 2.037, 2.024, 2.047, 2.015, 2.032, 2.006, 2.039, 2.021, 2.012, 2.044,
    2.026, 2.014, 2.038, 2.051, 2.009, 2.030, 2.018, 2.042, 2.003, 2.035, 2.022, 2.010, 2.046, 2.027, 1.996, 2.033, 2.017, 2.040, 2.025, 2.007,
    2.037, 2.020, 2.049, 2.012, 2.031, 2.001, 2.028, 2.043, 2.016, 2.034, 1.990, 2.023, 2.039, 2.013, 2.052, 2.026, 2.008, 2.036, 2.019, 2.045,
    2.010, 2.032, 2.023, 2.004, 2.041, 2.015, 2.029, 2.048, 2.012, 2.035, 2.021, 1.999, 2.038, 2.026, 2.014, 2.044, 2.007, 2.031, 2.018, 2.053,
    2.024, 2.006, 2.036, 2.017, 2.047, 2.011, 2.030, 1.994, 2.039, 2.022, 2.013, 2.043, 2.028, 2.002, 2.034, 2.019, 2.050, 2.009, 2.027, 2.040,
    2.015, 2.033, 2.003, 2.038, 2.025, 2.046, 2.011, 2.029, 2.018, 2.052, 2.007, 2.035, 1.996, 2.024, 2.041, 2.013, 2.031, 2.020, 2.047, 2.005,
    2.036, 2.021, 2.044, 2.010, 2.028, 1.991, 2.033, 2.017, 2.049, 2.023, 2.006, 2.039, 2.014, 2.030, 2.055, 2.012, 2.026, 2.001, 2.037, 2.019,
    2.042, 2.008, 2.031, 2.020, 2.046, 2.014, 2.035, 1.998, 2.027, 2.040, 2.016, 2.051, 2.010, 2.029, 2.022, 2.004, 2.038, 2.024, 2.013, 2.045,
    2.017, 2.033, 2.050, 2.009, 2.026, 2.039, 2.002, 2.031, 2.019, 2.044, 2.012, 2.028, 1.993, 2.036, 2.023, 2.048, 2.015, 2.032, 2.006, 2.041,
    2.025, 2.011, 2.037, 2.020, 2.054, 2.013, 2.029, 2.003, 2.042, 2.018, 2.034, 2.008, 2.027, 2.047, 2.016, 1.997, 2.035, 2.022, 2.040, 2.012,
    2.030, 2.044, 2.006, 2.026, 2.015, 2.038, 2.021, 2.050, 2.010, 2.033, 1.995, 2.028, 2.041, 2.017, 2.036, 2.004, 2.024, 2.046, 2.013, 2.032,
    2.019, 2.040, 2.011, 2.029, 2.052, 2.008, 2.035, 2.022, 1.999, 2.037, 2.014, 2.043, 2.026, 2.005, 2.031, 2.018, 2.048, 2.012, 2.027, 2.039,
    2.009, 2.034, 2.021, 2.045, 2.003, 2.030, 2.016, 2.041, 2.024, 2.011, 2.036, 1.993, 2.028, 2.050, 2.015, 2.033, 2.020, 2.007, 2.042, 2.025,
    2.038, 2.013, 2.029, 2.054, 2.018, 2.002, 2.036, 2.023, 2.045, 2.010, 2.031, 2.017, 2.040, 1.996, 2.026, 2.048, 2.014, 2.034, 2.021, 2.008,
    2.032, 2.047, 2.016, 2.028, 2.039, 2.005, 2.024, 2.043, 2.011, 2.035, 2.019, 2.052, 2.013, 2.030, 1.998, 2.037, 2.022, 2.046, 2.009, 2.027,
    2.040, 2.017, 2.033, 2.001, 2.029, 2.050, 2.014, 2.036, 2.023, 2.008, 2.044, 2.020, 2.031, 1.994, 2.038, 2.026, 2.012, 2.047, 2.018, 2.034,
    2.006, 2.027, 2.042, 2.015, 2.035, 2.021, 2.053, 2.010, 2.030, 2.018, 1.997, 2.039, 2.024, 2.045, 2.012, 2.033, 2.003, 2.028, 2.049, 2.016,
    2.036, 2.022, 2.009, 2.041, 2.026, 2.014, 2.048, 2.002, 2.031, 2.019, 2.043, 2.011, 2.034, 1.992, 2.027, 2.040, 2.017, 2.053, 2.023, 2.006,
    2.029, 2.045, 2.013, 2.037, 2.020, 2.004, 2.032, 2.050, 2.016, 2.028, 1.995, 2.039, 2.025, 2.011, 2.044, 2.021, 2.034, 2.008, 2.047, 2.018,
    2.026, 2.003, 2.038, 2.015, 2.049, 2.022, 1.990, 2.033, 2.012, 2.060, 2.029, 2.005, 2.041, 2.019, 2.056, 2.010, 2.031, 1.988, 2.045, 2.024,
    2.013, 2.037, 2.020, 2.002, 2.034, 2.047, 2.016, 2.028, 1.996, 2.040, 2.023, 2.009, 2.052, 2.018, 2.031, 2.006, 2.026, 2.043, 2.014, 2.035,
    2.021, 2.010, 2.044, 2.027, 2.001, 2.036, 2.017, 2.050, 2.024, 2.008, 2.032, 1.994, 2.039, 2.020, 2.046, 2.013, 2.029, 2.004, 2.037, 2.025,
    2.011, 2.048, 2.019, 2.033, 2.006, 2.041, 2.023, 1.999, 2.030, 2.015, 2.054, 2.027, 2.008, 2.036, 2.018, 2.044, 2.002, 2.032, 2.021, 2.039,
    2.016, 2.029, 2.045, 2.007, 2.035, 2.020, 2.051, 2.012, 2.026, 1.997, 2.038, 2.024, 2.043, 2.010, 2.031, 2.003, 2.040, 1.982, 2.022, 2.034,
    2.018, 2.046, 2.009, 2.030, 2.064, 2.026, 1.983, 2.013, 2.037, 2.021, 2.048, 2.005, 2.028, 2.041, 2.015, 2.033, 1.995, 2.024, 2.050, 2.011,
    2.029, 2.017, 2.042, 2.004, 2.035, 2.022, 2.046, 2.010, 2.031, 1.993, 2.038, 2.025, 2.014, 2.049, 2.020, 2.007, 2.034, 2.027, 2.043, 2.012,
    2.036, 2.001, 2.024, 2.040, 2.016, 2.030, 2.053, 2.009, 2.027, 2.019, 2.044, 1.997, 2.033, 2.021, 2.006, 2.038, 2.015, 2.047, 2.026, 2.011,
    2.032, 2.020, 2.045, 2.008, 2.028, 2.037, 1.995, 2.023, 2.041, 2.013, 2.030, 2.018, 2.052, 2.004, 2.035, 2.025, 2.010, 2.039, 2.016, 2.044,
    2.022, 2.006, 2.034, 2.048, 2.015, 2.029, 2.001, 2.040, 2.026, 2.012, 2.037, 2.019, 1.992, 2.031, 2.045, 2.008, 2.027, 2.035, 2.017, 2.050,
    2.024, 2.011, 2.039, 2.020, 2.003, 2.033, 2.046, 2.014, 2.028, 2.041, 1.998, 2.030, 2.018, 2.055, 2.007, 2.036, 2.023, 2.012, 2.043, 2.027,
    2.016, 2.034, 2.009, 2.047, 2.021, 2.031, 1.996, 2.038, 2.025, 2.013, 2.042, 2.005, 2.029, 2.050, 2.018, 2.032, 2.011, 2.036, 2.022, 2.002,
    2.040, 2.026, 2.014, 2.048, 2.019, 2.033, 2.007, 2.029, 2.044, 2.012, 2.035, 1.994, 2.023, 2.038, 2.017, 2.052, 2.010, 2.030, 2.021, 2.045,
    2.005, 2.031, 2.019, 2.041, 2.027, 2.013, 2.048, 2.022, 2.000, 2.036, 2.016, 2.043, 2.025, 2.009, 2.033, 2.056, 2.014, 2.028, 2.039, 1.997,
    2.030, 2.017, 2.044, 2.023, 2.010, 2.037, 2.026, 2.051, 2.004, 2.032, 2.020, 2.046, 2.012, 2.028, 1.993, 2.035, 2.024, 2.041, 2.015, 2.033,
    2.021, 2.047, 2.008, 2.034, 2.018, 2.042, 2.027, 2.003, 2.038, 2.014, 2.053, 2.025, 2.011, 2.031, 2.044, 2.006, 2.029, 2.019, 2.040, 2.023,
    2.012, 2.036, 2.026, 1.996, 2.032, 2.049, 2.016, 2.028, 2.041, 2.007, 2.034, 2.022, 2.045, 2.013, 2.030, 2.002, 2.038, 2.024, 2.052, 2.017,
    2.035, 2.009, 2.027, 2.043, 2.020, 2.031, 1.991, 2.039, 2.024, 2.014, 2.047, 2.029, 2.006, 2.036, 2.018, 2.042, 2.025, 2.011, 2.033, 2.050,
    2.019, 2.034, 2.003, 2.040, 2.026, 2.012, 2.045, 2.021, 2.037, 1.999, 2.030, 2.048, 2.015, 2.028, 2.041, 2.008, 2.035, 2.023, 2.013, 2.044,
    2.027, 2.016, 2.050, 2.010, 2.032, 2.024, 2.039, 2.005, 2.029, 2.043, 2.018, 1.994, 2.036, 2.021, 2.046, 2.013, 2.031, 2.026, 2.009, 2.038,
    2.022, 2.042, 2.014, 2.030, 2.053, 2.008, 2.035, 2.019, 2.026, 2.040, 1.988, 2.017, 2.033, 2.024, 2.045, 2.011, 2.029, 2.037, 2.015, 2.031,
    2.004, 2.039, 2.025, 2.047, 2.012, 2.034, 2.020, 2.043, 2.009, 2.028, 2.036, 2.016, 2.051, 2.023, 2.001, 2.031, 2.040, 2.018, 2.026, 2.045,
    2.013, 2.030, 2.021, 2.037, 1.995, 2.027, 2.044, 2.016, 2.034, 2.007, 2.041, 2.024, 2.012, 2.049, 2.029, 2.019, 2.036, 2.003, 2.032, 2.022,
    2.046, 2.017, 2.028, 2.010, 2.039, 2.025, 2.052, 2.014, 2.031, 1.997, 2.035, 2.021, 2.043, 2.008, 2.027, 2.040, 2.019, 2.033, 2.012, 2.044,
    2.026, 2.006, 2.037, 2.022, 2.048, 2.015, 2.030, 2.041, 2.011, 2.034, 2.020, 1.999, 2.038, 2.024, 2.045, 2.016, 2.029, 2.009, 2.036, 2.023,
    2.042, 2.013, 2.031, 2.050, 2.018, 2.027, 2.004, 2.039, 2.025, 2.034, 2.012, 2.046, 2.021, 2.030, 2.007, 2.037, 2.024, 2.044, 2.019, 2.028,
]

TRACES = {
    "alpha": [alpha_chain1, alpha_chain2],
    "sigma": [sigma_chain1, sigma_chain2],
}
Y_TICKS = {"alpha": ALPHA_TICKS, "sigma": SIGMA_TICKS}

# panel boxes in figure fractions (R mfrow 1x3 layout, third slot empty)
PANEL_BOXES = [
    [0.0139, 0.0273, 0.3094, 0.9466],
    [0.3476, 0.0273, 0.3094, 0.9466],
]


def _padded(lo, hi, frac=0.04):
    """Same 4% range extension that base R graphics use."""
    pad = (hi - lo) * frac
    return lo - pad, hi + pad


def _trace_frame(chains):
    parts = []
    for k, values in enumerate(chains, start=1):
        values = np.asarray(values, dtype=float)
        parts.append(pd.DataFrame({
            "iteration": np.arange(1, len(values) + 1),
            "value": values,
            "chain": k,
        }))
    return pd.concat(parts, ignore_index=True)


def _draw_panel(ax, name, n_eff):
    frame = _trace_frame(TRACES[name])

    xlim = _padded(frame["iteration"].min(), frame["iteration"].max())
    ylim = _padded(frame["value"].min(), frame["value"].max())

    ax.axvspan(xlim[0], WARMUP, color=WARMUP_COLOR, lw=0, zorder=0)
    # thin aliased lines, like R's png device
    sns.lineplot(
        data=frame,
        x="iteration",
        y="value",
        hue="chain",
        palette=CHAIN_COLORS,
        estimator=None,
        sort=False,
        linewidth=0.6,
        antialiased=False,
        legend=False,
        ax=ax,
    )

    ax.set_xlim(xlim)
    ax.set_ylim(ylim)
    ax.set_xticks(X_TICKS)
    ax.set_yticks(Y_TICKS[name])
    ax.set_yticklabels([f"{t:.1f}" for t in Y_TICKS[name]])
    ax.set_xlabel("")
    ax.set_ylabel("")

    ax.tick_params(axis="both", direction="out", length=11.5, width=0.8,
                   color="black", labelcolor="black", labelsize=16, pad=1)
    ax.tick_params(axis="y", labelrotation=90)
    for label in ax.get_yticklabels():
        label.set_verticalalignment("center")

    for spine in ax.spines.values():
        spine.set_visible(True)
        spine.set_color("black")
        spine.set_linewidth(1.1)

    ax.set_title(name, loc="left", fontsize=21.5, pad=3.6, color="black")
    ax.set_title(f"n_eff = {n_eff}", loc="right", fontsize=18, pad=3.6,
                 color="black")


def main():
    sns.set_theme(style="ticks")
    plt.rcParams["font.family"] = ["Liberation Sans", "DejaVu Sans"]
    plt.rcParams["text.color"] = "black"

    fig = plt.figure(figsize=(28.8, 15.36), dpi=100, facecolor="white")
    for box, name, n_eff in zip(PANEL_BOXES, PARAMS, N_EFF):
        ax = fig.add_axes(box)
        ax.set_facecolor("white")
        _draw_panel(ax, name, n_eff)

    fig.savefig("out.png", dpi=100, facecolor="white")
    plt.close(fig)


if __name__ == "__main__":
    main()
